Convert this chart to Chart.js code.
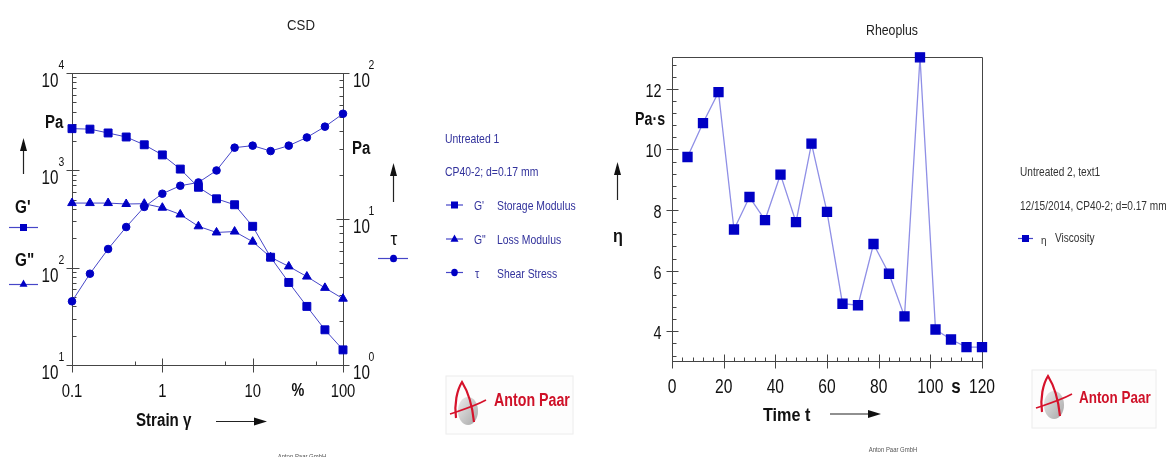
<!DOCTYPE html>
<html><head><meta charset="utf-8">
<script src="https://cdn.jsdelivr.net/npm/chart.js@4.4.1/dist/chart.umd.min.js"></script>
<style>
html,body{margin:0;padding:0;background:#fff;width:1169px;height:457px;overflow:hidden;position:relative;font-family:"Liberation Sans",Arial,sans-serif;}
canvas{position:absolute;top:0}
#c1{left:0}
#c2{left:600px}
.t{position:absolute;white-space:nowrap;line-height:1;}
#ov{position:absolute;left:0;top:0}
</style></head><body>
<canvas id="c1" width="600" height="457"></canvas>
<canvas id="c2" width="569" height="457"></canvas>
<svg id="ov" width="1169" height="457"></svg>
<script>
// ---------- data: CSD amplitude sweep ----------
const strain = [0.1, 0.158, 0.251, 0.398, 0.631, 1, 1.58, 2.51, 3.98, 6.31, 10, 15.8, 25.1, 39.8, 63.1, 100];
const storageModulus = [2680, 2650, 2420, 2200, 1830, 1440, 1030, 670, 510, 443, 266, 128, 70.5, 40, 23, 14.3];
const lossModulus = [461, 461, 461, 451, 454, 413, 352, 266, 230, 235, 185, 128, 103, 81, 62, 48];
const shearStress = [2.73, 4.22, 6.23, 8.81, 12.1, 14.9, 16.9, 17.8, 21.5, 30.8, 31.8, 29.2, 31.8, 36.2, 42.9, 52.6];
const csdXTicks = [0.1, 1, 10, 100];
const csdXTickLabels = ['0.1', '1', '10', '100'];
const csdXMinorTicks = [0.5, 5, 50];
const csdYExponents = [1, 2, 3, 4];
const csdY2Exponents = [0, 1, 2];

// ---------- data: Rheoplus viscosity vs time ----------
const time = [6, 12, 18, 24, 30, 36, 42, 48, 54, 60, 66, 72, 78, 84, 90, 96, 102, 108, 114, 120];
const viscosity = [9.75, 10.87, 11.89, 7.36, 8.43, 7.67, 9.17, 7.6, 10.19, 7.94, 4.91, 4.86, 6.88, 5.9, 4.49, 13.04, 4.06, 3.73, 3.48, 3.48];
const rheoXTicks = [0, 20, 40, 60, 80, 100, 120];
const rheoYTicks = [4, 6, 8, 10, 12];

const FONT = '"Liberation Sans", Arial, sans-serif';
const AXIS = '#454545';

function ctxText(ctx, s, x, cy, size, o) {
  o = o || {};
  ctx.save();
  ctx.font = (o.bold ? 'bold ' : '') + size + 'px ' + FONT;
  ctx.fillStyle = o.color || '#111';
  ctx.textBaseline = 'alphabetic';
  ctx.textAlign = o.align || 'center';
  ctx.translate(x, cy + size * 0.358);
  ctx.scale(o.sx || 1, 1);
  ctx.fillText(s, 0, 0);
  ctx.restore();
}
function seg(ctx, x1, y1, x2, y2) { ctx.moveTo(x1, y1); ctx.lineTo(x2, y2); }
function r5(v) { return Math.round(v) + 0.5; }

const csdAxes = {
  id: 'csdAxes',
  beforeDatasetsDraw(chart) {
    const { ctx, chartArea: a, scales: { x, y, y2 } } = chart;
    const L = r5(a.left), R = r5(a.right), Tp = r5(a.top), B = r5(a.bottom);
    ctx.save();
    ctx.strokeStyle = AXIS; ctx.lineWidth = 1;
    ctx.beginPath();
    seg(ctx, L, Tp, R, Tp); seg(ctx, L, Tp, L, B); seg(ctx, R, Tp, R, B); seg(ctx, L, B, R, B);
    for (let e = csdYExponents[0]; e <= csdYExponents[csdYExponents.length - 1]; e++) {
      const p = r5(y.getPixelForValue(Math.pow(10, e)));
      seg(ctx, L - 6, p, L + 7, p);
      if (e < csdYExponents[csdYExponents.length - 1]) for (let m = 2; m <= 9; m++) {
        const q = r5(y.getPixelForValue(m * Math.pow(10, e)));
        seg(ctx, L, q, L + 4, q);
      }
    }
    for (let e = csdY2Exponents[0]; e <= csdY2Exponents[csdY2Exponents.length - 1]; e++) {
      const p = r5(y2.getPixelForValue(Math.pow(10, e)));
      seg(ctx, R - 7, p, R + 6, p);
      if (e < csdY2Exponents[csdY2Exponents.length - 1]) for (let m = 2; m <= 9; m++) {
        const q = r5(y2.getPixelForValue(m * Math.pow(10, e)));
        seg(ctx, R - 4, q, R, q);
      }
    }
    csdXTicks.forEach(v => { const p = r5(x.getPixelForValue(v)); seg(ctx, p, B - 7, p, B + 7); });
    csdXMinorTicks.forEach(v => { const p = r5(x.getPixelForValue(v)); seg(ctx, p, B - 4, p, B); });
    ctx.stroke();
    ctx.restore();
    csdYExponents.forEach(e => {
      const p = y.getPixelForValue(Math.pow(10, e));
      ctxText(ctx, '10', 58.5, p + 7, 20, { align: 'right', sx: 0.76 });
      ctxText(ctx, String(e), 61.5, p - 8.5, 13, { sx: 0.8 });
    });
    csdY2Exponents.forEach(e => {
      const p = y2.getPixelForValue(Math.pow(10, e));
      ctxText(ctx, '10', 353, p + 7, 20, { align: 'left', sx: 0.76 });
      ctxText(ctx, String(e), 371.5, p - 8.5, 13, { sx: 0.8 });
    });
    csdXTicks.forEach((v, i) => {
      ctxText(ctx, csdXTickLabels[i], x.getPixelForValue(v), 390, 19, { sx: 0.78 });
    });
  }
};

const rheoAxes = {
  id: 'rheoAxes',
  beforeDatasetsDraw(chart) {
    const { ctx, chartArea: a, scales: { x, y } } = chart;
    const L = r5(a.left), R = r5(a.right), Tp = r5(a.top), B = r5(a.bottom);
    ctx.save();
    ctx.strokeStyle = AXIS; ctx.lineWidth = 1;
    ctx.beginPath();
    seg(ctx, L, Tp, R, Tp); seg(ctx, L, Tp, L, B); seg(ctx, R, Tp, R, B); seg(ctx, L, B, R, B);
    rheoYTicks.forEach(v => { const p = r5(y.getPixelForValue(v)); seg(ctx, L - 6, p, L + 6, p); });
    for (let v = 3.2; v < 13; v += 0.4) {
      const near = rheoYTicks.some(t => Math.abs(t - v) < 0.05);
      if (!near) { const p = r5(y.getPixelForValue(v)); seg(ctx, L, p, L + 4, p); }
    }
    rheoXTicks.forEach(v => { const p = r5(x.getPixelForValue(v)); seg(ctx, p, B - 7, p, B + 7); });
    for (let v = 4; v < 120; v += 4) {
      if (v % 20 !== 0) { const p = r5(x.getPixelForValue(v)); seg(ctx, p, B - 4, p, B); }
    }
    ctx.stroke();
    ctx.restore();
    rheoYTicks.forEach(v => ctxText(ctx, String(v), 61.5, y.getPixelForValue(v) + 1.5, 18, { align: 'right', sx: 0.8 }));
    rheoXTicks.forEach(v => ctxText(ctx, String(v), x.getPixelForValue(v), 386, 20, { sx: 0.78 }));
  }
};

const MARK = '#0000c4';
new Chart(document.getElementById('c1'), {
  type: 'line',
  data: {
    datasets: [
      { label: "G' Storage Modulus", data: strain.map((s, i) => ({ x: s, y: storageModulus[i] })), yAxisID: 'y',
        pointStyle: 'rect', pointRadius: 5.6, borderColor: '#4646c8', borderWidth: 1, backgroundColor: MARK, pointBorderColor: MARK, pointBackgroundColor: MARK, clip: false },
      { label: 'G" Loss Modulus', data: strain.map((s, i) => ({ x: s, y: lossModulus[i] })), yAxisID: 'y',
        pointStyle: 'triangle', pointRadius: 5, borderColor: '#4646c8', borderWidth: 1, backgroundColor: MARK, pointBorderColor: MARK, pointBackgroundColor: MARK, clip: false },
      { label: 'τ Shear Stress', data: strain.map((s, i) => ({ x: s, y: shearStress[i] })), yAxisID: 'y2',
        pointStyle: 'circle', pointRadius: 3.8, borderColor: '#4646c8', borderWidth: 1, backgroundColor: MARK, pointBorderColor: MARK, pointBackgroundColor: MARK, clip: false }
    ]
  },
  options: {
    responsive: false, animation: false, devicePixelRatio: 1,
    layout: { padding: { left: 72, right: 257, top: 73, bottom: 92 } },
    plugins: { legend: { display: false }, tooltip: { enabled: false } },
    elements: { line: { tension: 0 } },
    scales: {
      x: { type: 'logarithmic', min: 0.1, max: 100, display: false },
      y: { type: 'logarithmic', min: 10, max: 10000, display: false },
      y2: { type: 'logarithmic', min: 1, max: 100, display: false, position: 'right' }
    }
  },
  plugins: [csdAxes]
});

new Chart(document.getElementById('c2'), {
  type: 'line',
  data: {
    datasets: [
      { label: 'η Viscosity', data: time.map((t, i) => ({ x: t, y: viscosity[i] })),
        pointStyle: 'rect', pointRadius: 6.4, borderColor: '#8f8fe6', borderWidth: 1.3, backgroundColor: MARK, pointBorderColor: MARK, pointBackgroundColor: MARK, clip: false }
    ]
  },
  options: {
    responsive: false, animation: false, devicePixelRatio: 1,
    layout: { padding: { left: 72, right: 187, top: 57, bottom: 96 } },
    plugins: { legend: { display: false }, tooltip: { enabled: false } },
    elements: { line: { tension: 0 } },
    scales: {
      x: { type: 'linear', min: 0, max: 120, display: false },
      y: { type: 'linear', min: 3.02, max: 13.05, display: false }
    }
  },
  plugins: [rheoAxes]
});

// ---------- HTML text ----------
function T(s, x, y, o) {
  o = o || {};
  const d = document.createElement('div'); d.className = 't'; d.textContent = s;
  const size = o.size || 13; d.style.fontSize = size + 'px';
  if (o.bold) d.style.fontWeight = 'bold';
  d.style.color = o.color || '#111';
  d.style.left = x + 'px'; d.style.top = y + 'px';
  const al = o.align || 'left', sx = o.sx || 1;
  const tx = al === 'left' ? '0' : al === 'center' ? '-50%' : '-100%';
  d.style.transformOrigin = al + ' center';
  d.style.transform = 'translate(' + tx + ',-50%) scaleX(' + sx + ')';
  document.body.appendChild(d);
}
const LB = '#32329c';
T('CSD', 301, 24, { size: 15, align: 'center', sx: 0.88, color: '#222' });
T('Pa', 45, 121.5, { size: 18, bold: true, sx: 0.83 });
T("G'", 15, 206.5, { size: 18, bold: true, sx: 0.85 });
T('G"', 15, 260, { size: 18, bold: true, sx: 0.85 });
T('Pa', 352, 147.5, { size: 18, bold: true, sx: 0.83 });
T('τ', 393.5, 237.5, { size: 19, align: 'center', sx: 0.9 });
T('%', 297.5, 390, { size: 18, bold: true, align: 'center', sx: 0.8 });
T('Strain γ', 136, 420, { size: 18, bold: true, sx: 0.84 });
T('Untreated 1', 445, 137.5, { size: 13, color: LB, sx: 0.8 });
T('CP40-2; d=0.17 mm', 445, 170.5, { size: 13, color: LB, sx: 0.8 });
T("G'", 474, 205, { size: 13, color: LB, sx: 0.8 });
T('Storage Modulus', 497, 205, { size: 13, color: LB, sx: 0.8 });
T('G"', 474, 239, { size: 13, color: LB, sx: 0.8 });
T('Loss Modulus', 497, 239, { size: 13, color: LB, sx: 0.8 });
T('τ', 475, 273.5, { size: 12, color: LB, sx: 0.9 });
T('Shear Stress', 497, 272.5, { size: 13, color: LB, sx: 0.8 });
T('Anton Paar', 494, 400, { size: 18, bold: true, color: '#cf1128', sx: 0.79 });
T('Anton Paar GmbH', 302, 456, { size: 7, align: 'center', color: '#555', sx: 0.85 });
T('Rheoplus', 892, 29, { size: 15, align: 'center', sx: 0.82, color: '#222' });
T('Pa·s', 635, 119, { size: 18, bold: true, sx: 0.79 });
T('η', 617.5, 236, { size: 18, bold: true, align: 'center', sx: 0.9 });
T('s', 955.5, 386, { size: 20, bold: true, align: 'center', sx: 0.85 });
T('Time t', 763, 415, { size: 18, bold: true, sx: 0.9 });
T('Untreated 2, text1', 1020, 172, { size: 12, color: '#333', sx: 0.84 });
T('12/15/2014, CP40-2; d=0.17 mm', 1020, 206, { size: 12, color: '#333', sx: 0.84 });
T('η', 1041, 240, { size: 11, color: '#333', sx: 0.9 });
T('Viscosity', 1055, 238, { size: 12, color: '#333', sx: 0.84 });
T('Anton Paar', 1079, 396.5, { size: 17, bold: true, color: '#cf1128', sx: 0.79 });
T('Anton Paar GmbH', 893, 449, { size: 7, align: 'center', color: '#555', sx: 0.85 });

// ---------- overlay graphics: arrows, legend keys, logos ----------
function upArrow(x, y1, y2) {
  return `<line x1="${x}" y1="${y2}" x2="${x}" y2="${y1 + 10}" stroke="#222" stroke-width="1.2"/>` +
    `<polygon points="${x - 3.5},${y1 + 13} ${x + 3.5},${y1 + 13} ${x},${y1}" fill="#111"/>`;
}
function rightArrow(x1, x2, y) {
  return `<line x1="${x1}" y1="${y}" x2="${x2 - 10}" y2="${y}" stroke="#222" stroke-width="1.2"/>` +
    `<polygon points="${x2 - 13},${y - 4} ${x2 - 13},${y + 4} ${x2},${y}" fill="#111"/>`;
}
function keyLine(x1, x2, y, col) { return `<line x1="${x1}" y1="${y}" x2="${x2}" y2="${y}" stroke="${col || '#4646c8'}" stroke-width="1.2"/>`; }
function sq(cx, cy, s) { return `<rect x="${cx - s / 2}" y="${cy - s / 2}" width="${s}" height="${s}" fill="${MARK}"/>`; }
function tri(cx, cy, s) { return `<polygon points="${cx - s / 2},${cy + s * 0.4} ${cx + s / 2},${cy + s * 0.4} ${cx},${cy - s * 0.5}" fill="${MARK}"/>`; }
function circ(cx, cy, r) { return `<ellipse cx="${cx}" cy="${cy}" rx="${r}" ry="${r * 1.1}" fill="${MARK}"/>`; }
function logo(x, y, w, h) {
  return `<rect x="${x}" y="${y}" width="${w}" height="${h}" fill="#fdfdfd" stroke="#ececec" stroke-width="1"/>` +
    `<defs><linearGradient id="g${x}" x1="0" y1="0" x2="1" y2="1"><stop offset="0" stop-color="#ececec"/><stop offset="1" stop-color="#a6a6a6"/></linearGradient></defs>` +
    `<ellipse cx="${x + 22}" cy="${y + 35}" rx="10" ry="14" fill="url(#g${x})"/>` +
    `<path d="M ${x + 10} ${y + 42} C ${x + 8} ${y + 28}, ${x + 11} ${y + 14}, ${x + 16} ${y + 6} C ${x + 21} ${y + 14}, ${x + 26} ${y + 26}, ${x + 28} ${y + 46}" fill="none" stroke="#d6122b" stroke-width="2.2"/>` +
    `<path d="M ${x + 4} ${y + 38} C ${x + 16} ${y + 34}, ${x + 29} ${y + 30}, ${x + 40} ${y + 24}" fill="none" stroke="#d6122b" stroke-width="1.6"/>`;
}
let svg = '';
svg += upArrow(23.5, 138, 174);
svg += keyLine(9, 38, 227.5) + sq(23.5, 227.5, 7);
svg += keyLine(9, 38, 284.5) + tri(23.5, 283.5, 8);
svg += upArrow(393.5, 163, 202);
svg += keyLine(378, 408, 258.5) + circ(393.5, 258.5, 3.5);
svg += rightArrow(216, 267, 421.5);
svg += keyLine(446, 463, 205) + sq(454.5, 205, 7);
svg += keyLine(446, 463, 239) + tri(454.5, 238.5, 8);
svg += keyLine(446, 463, 272.5) + circ(454.5, 272.5, 3.3);
svg += logo(446, 376, 127, 58);
svg += upArrow(617.5, 162, 200);
svg += rightArrow(830, 881, 414);
svg += keyLine(1018, 1033, 238.5) + sq(1025.5, 238.5, 7);
svg += logo(1032, 370, 124, 58);
document.getElementById('ov').innerHTML = svg;
</script>
</body></html>
